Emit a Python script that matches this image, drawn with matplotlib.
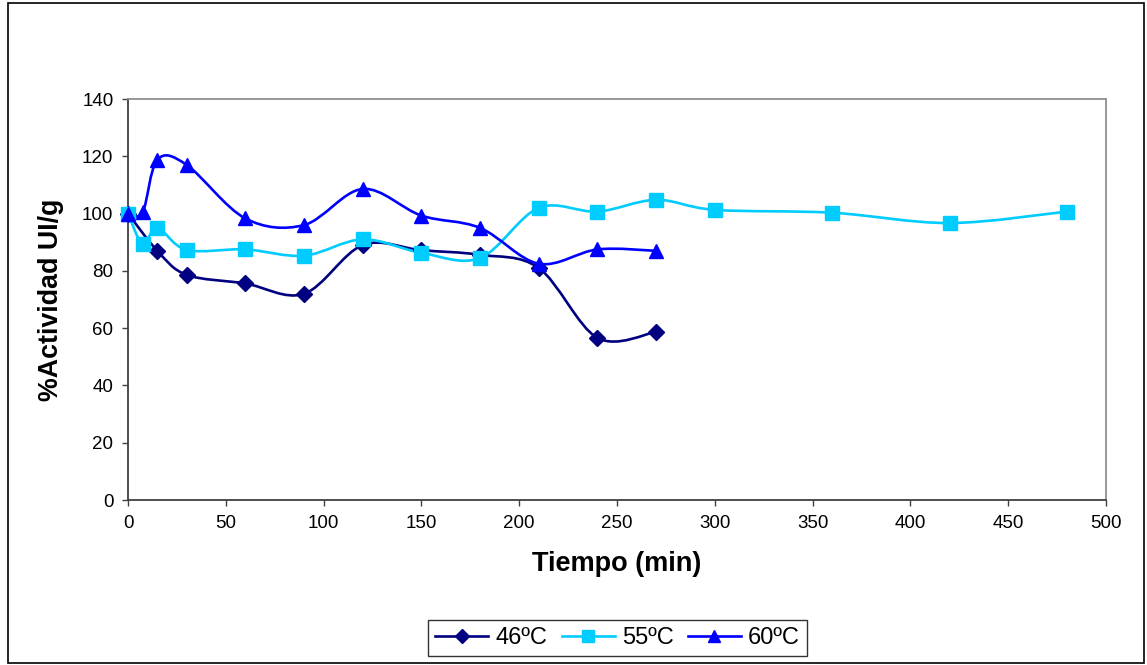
import matplotlib
matplotlib.use("Agg")
import matplotlib.pyplot as plt
import numpy as np
from matplotlib.path import Path
from matplotlib.patches import PathPatch, Rectangle
from matplotlib.lines import Line2D

plt.rcParams["font.family"] = ["Liberation Sans", "DejaVu Sans"]

# datos
t_46 = [0, 15, 30, 60, 90, 120, 150, 180, 210, 240, 270]
act_46 = [100, 87, 78.6, 75.6, 72, 89, 87.2, 85.6, 81, 56.6, 58.7]

t_55 = [0, 7.5, 15, 30, 60, 90, 120, 150, 180, 210, 240, 270, 300, 360, 420, 480]
act_55 = [100, 89.4, 95, 87.3, 87.5, 85.3, 91, 86.3, 84.5, 102, 100.7, 104.8, 101.3, 100.3, 96.7, 100.7]

t_60 = [0, 7.5, 15, 30, 60, 90, 120, 150, 180, 210, 240, 270]
act_60 = [100, 100.5, 118.8, 117, 98.3, 96, 108.6, 99.3, 95, 82.5, 87.5, 87]

series = [
    ("46ºC", t_46, act_46, "#000080", "D", 8),
    ("55ºC", t_55, act_55, "#00CCFF", "s", 10),
    ("60ºC", t_60, act_60, "#0000FF", "^", 10),
]


def curva_suave(x, y):
    # curva tipo Excel: bezier cubica entre los puntos
    p = np.column_stack([x, y]).astype(float)
    n = len(p)
    verts = [p[0]]
    codes = [Path.MOVETO]
    for i in range(n - 1):
        p0 = p[i - 1] if i > 0 else p[i]
        p1 = p[i]
        p2 = p[i + 1]
        p3 = p[i + 2] if i + 2 < n else p[i + 1]
        c1 = p1 + (p2 - p0) / 6.0
        c2 = p2 - (p3 - p1) / 6.0
        verts += [c1, c2, p2]
        codes += [Path.CURVE4] * 3
    return Path(verts, codes)


fig = plt.figure(figsize=(11.47, 6.65), dpi=100)
ax = fig.add_axes([0.1116, 0.2481, 0.8527, 0.6030])

for nombre, t, a, color, marca, ms in series:
    patch = PathPatch(curva_suave(t, a), facecolor="none", edgecolor=color,
                      lw=1.9, transform=ax.transData, zorder=2)
    ax.add_patch(patch)
    ax.plot(t, a, linestyle="none", marker=marca, color=color, markersize=ms,
            zorder=3, clip_on=False)

ax.set_xlim(0, 500)
ax.set_ylim(0, 140)
ax.set_xticks(np.arange(0, 501, 50))
ax.set_yticks(np.arange(0, 141, 20))
ax.tick_params(direction="out", length=4.5, width=1, color="#404040",
               labelsize=13.5, pad=6)
for s in ["left", "bottom"]:
    ax.spines[s].set_color("#404040")
    ax.spines[s].set_linewidth(1.3)
for s in ["top", "right"]:
    ax.spines[s].set_color("#909090")
    ax.spines[s].set_linewidth(1.3)

ax.set_xlabel("Tiempo (min)", fontsize=19.5, fontweight="bold", labelpad=14)
ax.set_ylabel("%Actividad UI/g", fontsize=19.3, fontweight="bold", labelpad=13)

handles = [Line2D([], [], color=c, marker=m, markersize=ms * 0.85, lw=1.9)
           for _, _, _, c, m, ms in series]
leg = fig.legend(handles, [s[0] for s in series], loc="center",
                 bbox_to_anchor=(0.5384, 0.0406), ncol=3, fontsize=17,
                 frameon=True, fancybox=False, edgecolor="black",
                 handlelength=2.25, columnspacing=0.6, handletextpad=0.3,
                 borderpad=0.3, borderaxespad=0)
leg.get_frame().set_linewidth(1.0)

# marco exterior
fig.patches.append(Rectangle((0.007, 0.003), 0.990, 0.992, transform=fig.transFigure,
                             fill=False, edgecolor="black", lw=1.2))

fig.savefig("out.png", dpi=100)
